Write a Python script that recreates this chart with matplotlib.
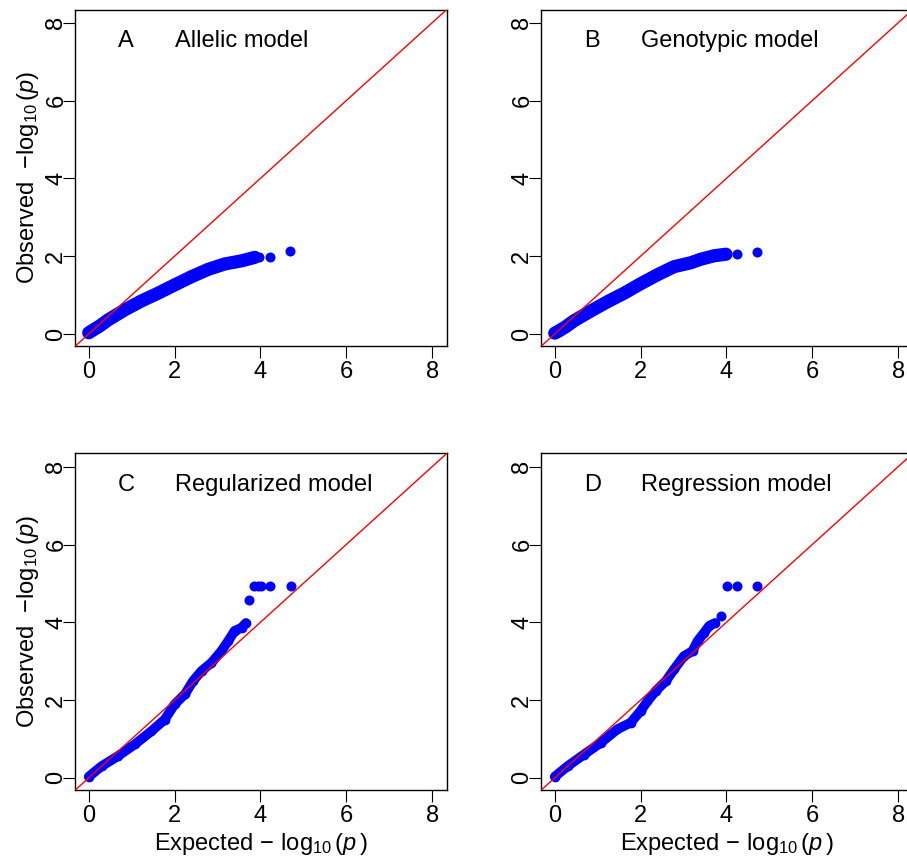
import matplotlib
matplotlib.use('Agg')
import matplotlib.pyplot as plt

plt.rcParams['font.family'] = ['Liberation Sans', 'DejaVu Sans']
plt.rcParams['mathtext.fontset'] = 'custom'
plt.rcParams['mathtext.rm'] = 'Liberation Sans'
plt.rcParams['mathtext.it'] = 'Liberation Sans:italic'

# QQ plots, points (band = dense part, tail = single dots)
a_band_x = [0.0, 0.1, 0.25, 0.45, 0.84, 1.23, 1.62, 2.0, 2.39, 2.78, 3.17, 3.56, 3.87]
a_band_y = [0.03, 0.1, 0.2, 0.36, 0.62, 0.85, 1.05, 1.26, 1.47, 1.66, 1.80, 1.88, 1.97]
a_tail_x = [3.97, 4.22, 4.70]
a_tail_y = [1.97, 1.97, 2.13]

b_band_x = [0.0, 0.1, 0.25, 0.45, 0.84, 1.23, 1.62, 2.0, 2.39, 2.78, 3.17, 3.40, 3.71, 3.99]
b_band_y = [0.02, 0.08, 0.18, 0.34, 0.59, 0.83, 1.05, 1.29, 1.52, 1.73, 1.83, 1.92, 2.01, 2.05]
b_tail_x = [4.24, 4.72]
b_tail_y = [2.06, 2.11]

c_band_x = [0.0, 0.3, 0.68, 1.07, 1.46, 1.77, 2.0, 2.24, 2.43, 2.63, 2.86, 3.09, 3.25, 3.40, 3.56, 3.66]
c_band_y = [0.03, 0.30, 0.56, 0.86, 1.20, 1.50, 1.89, 2.15, 2.49, 2.75, 2.96, 3.26, 3.52, 3.78, 3.86, 3.98]
c_tail_x = [3.73, 3.85, 3.95, 4.02, 4.23, 4.71]
c_tail_y = [4.57, 4.94, 4.94, 4.94, 4.94, 4.94]

d_band_x = [0.0, 0.3, 0.68, 1.07, 1.46, 1.77, 2.0, 2.16, 2.35, 2.59, 2.78, 3.01, 3.21, 3.33, 3.48, 3.60, 3.73]
d_band_y = [0.03, 0.30, 0.60, 0.90, 1.25, 1.42, 1.72, 1.97, 2.23, 2.49, 2.79, 3.13, 3.26, 3.52, 3.73, 3.91, 3.98]
d_tail_x = [3.87, 4.01, 4.24, 4.72]
d_tail_y = [4.16, 4.94, 4.94, 4.94]

letters = ['A', 'B', 'C', 'D']
titles = ['Allelic model', 'Genotypic model', 'Regularized model', 'Regression model']
ticks = [0, 2, 4, 6, 8]

lim = (-0.32, 8.34)
fs = 17

fig = plt.figure(figsize=(9.07, 8.59), dpi=100)
W, H = 907, 859
boxes = [(75, 9.6), (541, 9.6), (75, 453.5), (541, 453.5)]  # left, top in px
bw, bh = 371.7, 336.8
band_lw = [9.5, 9.5, 7.0, 7.0]

panels = [
    (a_band_x, a_band_y, a_tail_x, a_tail_y),
    (b_band_x, b_band_y, b_tail_x, b_tail_y),
    (c_band_x, c_band_y, c_tail_x, c_tail_y),
    (d_band_x, d_band_y, d_tail_x, d_tail_y),
]

for i, (bx, by, tx, ty) in enumerate(panels):
    left, top = boxes[i]
    ax = fig.add_axes([left / W, 1 - (top + bh) / H, bw / W, bh / H])
    ax.plot(bx, by, '-', color='#0000ff', lw=band_lw[i], solid_capstyle='round',
            solid_joinstyle='round', zorder=2)
    ax.plot(bx, by, 'o', color='#0000ff', ms=6, zorder=2)
    ax.plot(tx, ty, 'o', color='#0000ff', ms=6.2, zorder=2)
    ax.plot(lim, lim, color='red', lw=1.0, zorder=3)
    ax.set_xlim(lim)
    ax.set_ylim(lim)
    ax.set_xticks(ticks)
    ax.set_yticks(ticks)
    ax.tick_params(length=8.5, width=0.8, labelsize=fs)
    ax.tick_params(axis='x', pad=2)
    ax.tick_params(axis='y', labelrotation=90, pad=-3)
    for lab in ax.get_yticklabels():
        lab.set_va('center')
    for sp in ax.spines.values():
        sp.set_linewidth(1.0)
    ax.text(0.68, 7.52, letters[i], fontsize=fs, ha='left', va='center')
    ax.text(2.0, 7.52, titles[i], fontsize=fs, ha='left', va='center')
    if i % 2 == 0:
        ax.set_ylabel(r'Observed  $-\log_{10}(p)$', fontsize=fs, labelpad=3)
    if i >= 2:
        ax.set_xlabel(r'Expected$\,-\,\log_{10}(p\,)$', fontsize=fs, labelpad=3)

fig.savefig('out.png', dpi=100)
